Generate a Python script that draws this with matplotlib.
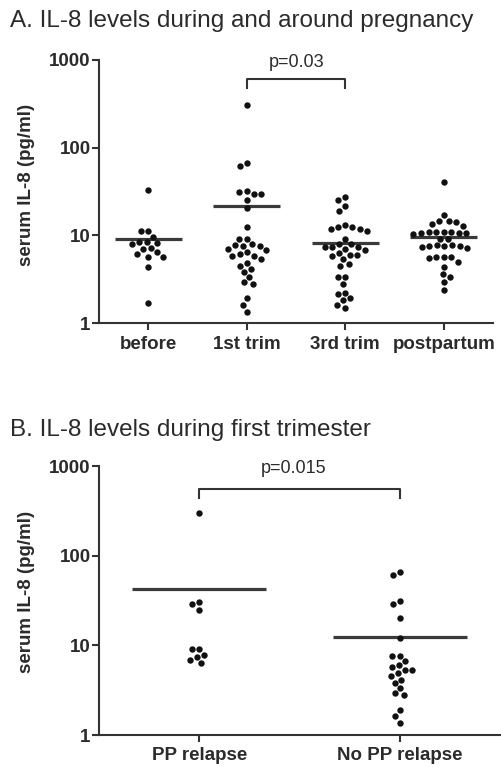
import numpy as np
import matplotlib
matplotlib.use('Agg')
import matplotlib.pyplot as plt
from matplotlib.ticker import FixedLocator, NullLocator, FixedFormatter

plt.rcParams['font.family'] = ['Liberation Sans', 'DejaVu Sans']

# ---------------- data ----------------
a_title = "A. IL-8 levels during and around pregnancy"
a_categories = ['before', '1st trim', '3rd trim', 'postpartum']
a_before = [32.9, 11.3, 11.1, 9.6, 8.45, 7.95, 8.2, 8.45, 6.9, 7.1, 6.1, 5.6, 5.7, 6.4, 4.35, 1.7]
a_first = [306, 66.2, 62.2, 32.3, 30.9, 29.6, 29.6, 25.3, 20.3, 12.3, 9.1, 9.1, 7.96, 7.69,
           7.55, 7.61, 6.98, 6.8, 6.4, 6.07, 5.85, 5.85, 5.32, 4.87, 4.5, 4.1, 3.78, 3.32,
           2.91, 2.78, 1.91, 1.6, 1.32]
a_third = [27.5, 25.3, 21.6, 19.1, 13.1, 12.3, 11.7, 11.2, 11.9, 12.5, 9.0, 7.96, 6.8, 7.3,
           7.3, 7.3, 7.96, 6.98, 5.96, 5.81, 5.96, 5.37, 6.34, 4.71, 4.47, 3.37, 3.32, 2.78,
           2.22, 1.91, 1.83, 2.14, 1.47, 1.6]
a_post = [40.8, 17.0, 14.7, 14.1, 12.8, 13.5, 14.6, 11.0, 10.7, 10.9, 10.5, 10.8, 10.6, 10.9,
          10.4, 9.1, 9.2, 7.7, 7.5, 7.4, 7.1, 7.5, 7.5, 7.7, 5.7, 5.6, 5.5, 5.6, 5.0, 4.38,
          3.59, 3.37, 2.91, 2.38]
a_means = [9.1, 21.6, 8.2, 9.6]
a_pvalue = "p=0.03"

b_title = "B. IL-8 levels during first trimester"
b_categories = ['PP relapse', 'No PP relapse']
b_relapse = [298, 30.6, 28.9, 24.8, 9.1, 9.1, 7.46, 7.86, 6.86, 6.35]
b_norelapse = [65.2, 60.8, 28.9, 31.4, 20.0, 12.2, 7.6, 7.66, 6.73, 6.03, 5.3, 4.88, 5.3,
               5.77, 4.55, 4.1, 3.77, 3.32, 2.79, 2.92, 1.9, 1.63, 1.35]
b_means = [42.4, 12.4]
b_pvalue = "p=0.015"

y_label = "serum IL-8 (pg/ml)"
y_ticks = [1, 10, 100, 1000]
y_ticklabels = ['1', '10', '100', '1000']

# ---------------- style ----------------
W, H, DPI = 501, 767, 100
TXT = '#2b2b2b'
AX = '#333333'
DOT = '#111111'


def px_rect(l, t, r, b):
    return [l / W, 1 - b / H, (r - l) / W, (b - t) / H]


def swarm(ax, xc, values, d=7.6):
    vals = np.asarray(values, dtype=float)
    pts = ax.transData.transform(np.column_stack([np.full(len(vals), xc), vals]))
    order = np.argsort(-vals, kind='stable')
    placed = []
    xs = np.zeros(len(vals))
    for i in order:
        px, py = pts[i]
        cands = [0.0]
        for qx, qy in placed:
            dy = py - qy
            if abs(dy) < d:
                dx = np.sqrt(d * d - dy * dy)
                cands += [qx - px + dx, qx - px - dx]
        cands = sorted(cands, key=lambda c: (abs(c), c))
        chosen = 0.0
        for c in cands:
            if all((px + c - qx) ** 2 + (py - qy) ** 2 >= d * d - 1e-6 for qx, qy in placed):
                chosen = c
                break
        placed.append((px + chosen, py))
        xs[i] = px + chosen
    back = ax.transData.inverted().transform(np.column_stack([xs, pts[:, 1]]))
    return back[:, 0]


def style_axis(ax, categories, xmax):
    ax.set_yscale('log')
    ax.set_ylim(1, 1000)
    ax.set_xlim(0.5, xmax)
    for s in ['top', 'right']:
        ax.spines[s].set_visible(False)
    for s in ['left', 'bottom']:
        ax.spines[s].set_linewidth(1.5)
        ax.spines[s].set_color(AX)
    ax.yaxis.set_major_locator(FixedLocator(y_ticks))
    ax.yaxis.set_major_formatter(FixedFormatter(y_ticklabels))
    ax.yaxis.set_minor_locator(NullLocator())
    ax.set_xticks(np.arange(1, len(categories) + 1))
    ax.set_xticklabels(categories)
    ax.tick_params(axis='both', length=5, width=1.5, color=AX, labelcolor=TXT,
                   labelsize=13.5)
    ax.tick_params(axis='y', pad=1)
    ax.tick_params(axis='x', pad=4)
    for lab in ax.get_xticklabels() + ax.get_yticklabels():
        lab.set_fontweight('bold')
    ax.patch.set_visible(False)


fig = plt.figure(figsize=(W / DPI, H / DPI), dpi=DPI)

# ---------- Panel A ----------
axA = fig.add_axes(px_rect(99, 60, 493, 323))
style_axis(axA, a_categories, 4.5)
a_groups = [a_before, a_first, a_third, a_post]
for i, (vals, m) in enumerate(zip(a_groups, a_means)):
    xc = i + 1
    xs = swarm(axA, xc, vals)
    axA.plot(xs, vals, 'o', ms=4.6, color=DOT, mec='none', clip_on=False, zorder=3)
    axA.hlines(m, xc - 0.34, xc + 0.34, colors='#3a3a3a', lw=2.3, zorder=2)
axA.plot([2, 2, 3, 3], [478, 606, 606, 478], color='#333333', lw=1.5, clip_on=False)
axA.text(2.51, 830, a_pvalue, ha='center', va='baseline', fontsize=13, color=TXT)
fig.text(10 / W, 1 - 27 / H, a_title, ha='left', va='baseline', fontsize=17.5, color=TXT)
fig.text(27 / W, 1 - 185 / H, y_label, rotation=90, ha='center', va='center',
         fontsize=13.5, fontweight='bold', color=TXT)

# ---------- Panel B ----------
axB = fig.add_axes(px_rect(99, 466, 500, 735))
style_axis(axB, b_categories, 2.5)
b_groups = [b_relapse, b_norelapse]
for i, (vals, m) in enumerate(zip(b_groups, b_means)):
    xc = i + 1
    xs = swarm(axB, xc, vals)
    axB.plot(xs, vals, 'o', ms=4.6, color=DOT, mec='none', clip_on=False, zorder=3)
    axB.hlines(m, xc - 0.335, xc + 0.335, colors='#3a3a3a', lw=2.3, zorder=2)
axB.plot([1, 1, 2, 2], [439, 553, 553, 439], color='#333333', lw=1.5, clip_on=False)
axB.text(1.47, 834, b_pvalue, ha='center', va='baseline', fontsize=13, color=TXT)
fig.text(10 / W, 1 - 436 / H, b_title, ha='left', va='baseline', fontsize=17.5, color=TXT)
fig.text(27 / W, 1 - 592 / H, y_label, rotation=90, ha='center', va='center',
         fontsize=13.5, fontweight='bold', color=TXT)

fig.savefig('out.png', dpi=DPI)
